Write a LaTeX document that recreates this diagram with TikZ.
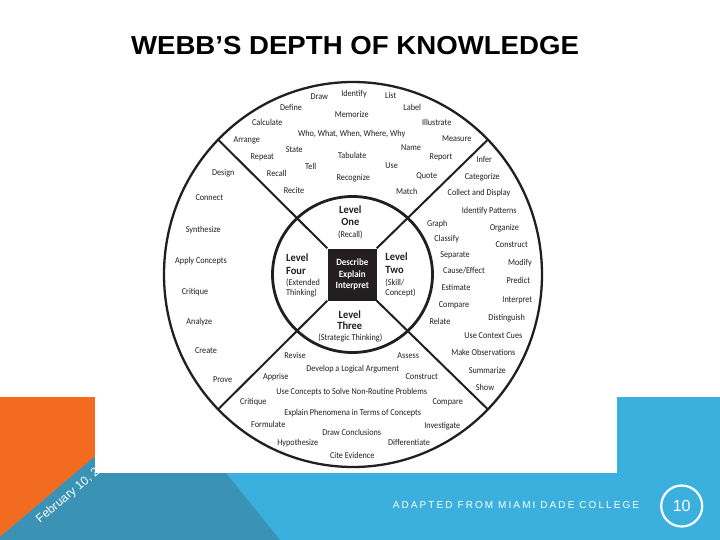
\documentclass[tikz,border=0pt]{standalone}
\usepackage{fontspec}
\setmainfont{Liberation Sans}
\newfontfamily\wfont{Carlito}
\newfontfamily\adfont[LetterSpace=21]{Liberation Sans}
\definecolor{ink}{RGB}{35,31,32}
\definecolor{orng}{RGB}{242,107,33}
\definecolor{teal}{RGB}{58,147,180}
\definecolor{lblue}{RGB}{59,176,222}
\tikzset{
  w/.style={font=\wfont\fontsize{9}{10}\selectfont, xscale=0.91, text=ink, anchor=mid, inner sep=0pt},
  lvl/.style={font=\wfont\bfseries\fontsize{11}{12}\selectfont, xscale=0.95, text=ink, anchor=mid, inner sep=0pt},
  sub/.style={font=\wfont\fontsize{9}{10}\selectfont, xscale=0.91, text=ink, anchor=mid, inner sep=0pt},
  cen/.style={font=\wfont\bfseries\fontsize{9.6}{10}\selectfont, xscale=0.93, text=white, anchor=mid, inner sep=0pt},
  spoke/.style={draw=ink, line width=2pt},
}
\begin{document}
\begin{tikzpicture}[x=1pt,y=-1pt]
\useasboundingbox (0,0) rectangle (720,540);
\fill[white] (0,0) rectangle (720,540);
% bottom band
\fill[lblue] (0,397) rectangle (720,540);
\fill[orng] (0,397) -- (165,397) -- (0,537) -- cycle;
\fill[teal] (0,537) -- (165,397) -- (280,540) -- (0,540) -- cycle;
\node[rotate=40, anchor=base west, inner sep=0pt, text=white, font=\fontsize{12}{14}\selectfont] (date) at (40,523.5) {February 10, 2};
% picture area
\fill[white] (95,380) rectangle (617,473);
% title
\node[anchor=base, inner sep=0pt, font=\bfseries\fontsize{26}{30}\selectfont, xscale=1.062] (title) at (355,54.5) {WEBB’S DEPTH OF KNOWLEDGE};
% footer
\node[anchor=mid, inner sep=0pt, text=white, font=\adfont\fontsize{10}{12}\selectfont] (ad) at (516,506) {ADAPTED FROM MIAMI DADE COLLEGE};
\node[circle, draw=white, line width=2.2pt, minimum size=41pt, inner sep=0pt, text=white, font=\fontsize{16}{18}\selectfont] (pg) at (681.7,506) {10};
% wheel
\draw[draw=ink, line width=2.3pt] (353,274.5) ellipse [x radius=189pt, y radius=192.5pt];
\node[fill=ink, minimum width=49pt, minimum height=52pt, inner sep=0pt] (sq) at (352,274.5) {};
\coordinate (ul) at (218,139.5);
\coordinate (ur) at (488,139.5);
\coordinate (ll) at (218,409.5);
\coordinate (lr) at (488,409.5);
\draw[spoke] (sq.north west) -- (ul);
\draw[spoke] (sq.north east) -- (ur);
\draw[spoke] (sq.south west) -- (ll);
\draw[spoke] (sq.south east) -- (lr);
\draw[draw=ink, line width=2.8pt] (352.5,274.5) ellipse [x radius=80pt, y radius=78pt];
% centre text
\node[cen] (c1) at (352.3,263.3) {Describe};
\node[cen] (c2) at (352.3,274.5) {Explain};
\node[cen] (c3) at (352.3,285.7) {Interpret};
% levels
\node[lvl] (l1a) at (350.3,210.7) {Level};
\node[lvl] (l1b) at (350.3,223.3) {One};
\node[sub] (l1c) at (350.3,235) {(Recall)};
\node[lvl, anchor=mid west] (l4a) at (286,259) {Level};
\node[lvl, anchor=mid west] (l4b) at (286,271.7) {Four};
\node[sub, anchor=mid west] (l4c) at (286,282.7) {(Extended};
\node[sub, anchor=mid west] (l4d) at (286,293.3) {Thinking)};
\node[lvl, anchor=mid west] (l2a) at (385.3,258.3) {Level};
\node[lvl, anchor=mid west] (l2b) at (385.3,271) {Two};
\node[sub, anchor=mid west] (l2c) at (385.3,282.7) {(Skill/};
\node[sub, anchor=mid west] (l2d) at (385.3,293.3) {Concept)};
\node[lvl] (l3a) at (349.8,315.7) {Level};
\node[lvl] (l3b) at (349.8,326.7) {Three};
\node[sub] (l3c) at (350.3,338.3) {(Strategic Thinking)};
% words
\foreach \x/\y/\t [count=\i] in {
319.3/96.7/Draw, 354/94.3/Identify, 390.7/96/List, 291/107.7/Define, 412.3/107.7/Label,
351.7/115/Memorize, 267.3/123.3/Calculate, 436.7/123.3/Illustrate,
351.7/134.3/{Who, What, When, Where, Why}, 246.7/140/Arrange, 456.7/139.3/Measure,
294.3/150/State, 411/148.3/Name, 262.3/157.3/Repeat, 352.3/156/Tabulate, 441/157.3/Report,
310.7/167.3/Tell, 391.7/166/Use, 276.7/174.3/Recall, 353.3/177.7/Recognize, 426.7/175.7/Quote,
294/190.7/Recite, 406.7/191.7/Match,
484.3/160/Infer, 482.3/176.7/Categorize, 479/193.3/Collect and Display,
489.3/210.7/Identify Patterns, 437.3/224/Graph, 504.3/227.7/Organize, 446.7/239/Classify,
511.7/245/Construct, 455/255/Separate, 520/263.3/Modify, 464/271/{Cause/Effect},
518.3/281.3/Predict, 456/287.7/Estimate, 517.3/300/Interpret, 454/305.3/Compare,
506.7/317.7/Distinguish, 440/322.3/Relate, 493.3/336/Use Context Cues,
483.3/353.3/Make Observations, 487.3/370.7/Summarize, 485/388.3/Show,
223.3/172.7/Design, 209.3/198.3/Connect, 203.3/230/Synthesize, 201/261/Apply Concepts,
195/291.7/Critique, 199.3/321.7/Analyze, 206/351/Create, 222.7/380/Prove,
295/355.7/Revise, 408.3/355.7/Assess, 352.7/369/Develop a Logical Argument,
275.7/376.7/Apprise, 421.7/376.7/Construct,
351.7/391.7/Use Concepts to Solve Non-Routine Problems, 253.3/401.7/Critique,
447.7/401.7/Compare, 352.7/412.7/Explain Phenomena in Terms of Concepts,
268.3/425/Formulate, 442.3/425.7/Investigate, 351.7/433.3/Draw Conclusions,
297.7/442.7/Hypothesize, 409/442.7/Differentiate, 352.3/455.7/Cite Evidence}
  \node[w] (t\i) at (\x,\y) {\t};
\end{tikzpicture}
\end{document}
